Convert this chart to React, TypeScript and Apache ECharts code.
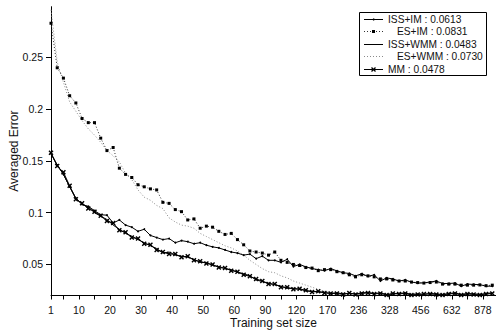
import React, { useEffect, useRef } from 'react';
import * as echarts from 'echarts';

// x positions are sample indices on the (non-linear) training-set-size axis
const xIdx = [
  1, 3, 5, 7, 9, 11, 13, 15, 17, 19, 21, 23,
  25, 27, 29, 31, 33, 35, 37, 39, 41, 43, 45, 47,
  49, 51, 53, 55, 57, 59, 61, 63, 65, 67, 69, 71,
  73, 75, 77, 79, 81, 83, 85, 87, 89, 91, 93, 95,
  97, 99, 101, 103, 105, 107, 109, 111, 113, 115, 117, 119,
  121, 123, 125, 127, 129, 131, 133, 135, 137, 139, 141, 143,
];
const xTickValues = [1, 5, 10, 15, 20, 25, 30, 35, 40, 45, 50, 55, 60, 65, 70, 75, 80, 85, 90, 95, 100, 105, 110, 115, 120, 125, 130, 135, 140];
const xLabelValues = [1, 10, 20, 30, 40, 50, 60, 70, 80, 90, 100, 110, 120, 130, 140];
const xLabelTexts = ['1', '10', '20', '30', '40', '50', '60', '90', '120', '170', '236', '328', '456', '632', '878'];
const yLabelValues = [0.05, 0.1, 0.15, 0.2, 0.25];

const seriesNames = ['ISS+IM : 0.0613', 'ES+IM : 0.0831', 'ISS+WMM : 0.0483', 'ES+WMM : 0.0730', 'MM : 0.0478'];

const issIm = [
  0.157, 0.146, 0.137, 0.125, 0.114, 0.108, 0.106, 0.102, 0.098, 0.0976, 0.090, 0.093,
  0.088, 0.086, 0.082, 0.084, 0.078, 0.076, 0.074, 0.075, 0.071, 0.073, 0.072, 0.070,
  0.071, 0.0686, 0.067, 0.066, 0.064, 0.062, 0.061, 0.059, 0.060, 0.0556, 0.058, 0.054,
  0.054, 0.052, 0.055, 0.048, 0.050, 0.0477, 0.046, 0.045, 0.044, 0.046, 0.0438, 0.042,
  0.0413, 0.039, 0.041, 0.0385, 0.040, 0.034, 0.037, 0.036, 0.034, 0.035, 0.033, 0.032,
  0.0322, 0.033, 0.034, 0.0316, 0.0316, 0.032, 0.029, 0.031, 0.0307, 0.0305, 0.029, 0.029,
];
const esIm = [
  0.283, 0.240, 0.230, 0.213, 0.206, 0.191, 0.187, 0.187, 0.172, 0.160, 0.163, 0.143,
  0.137, 0.134, 0.127, 0.125, 0.123, 0.122, 0.110, 0.109, 0.103, 0.101, 0.093, 0.094,
  0.085, 0.087, 0.086, 0.082, 0.079, 0.080, 0.074, 0.069, 0.063, 0.062, 0.061, 0.059,
  0.062, 0.054, 0.052, 0.050, 0.049, 0.047, 0.0465, 0.044, 0.045, 0.045, 0.043, 0.042,
  0.040, 0.038, 0.040, 0.039, 0.038, 0.036, 0.036, 0.035, 0.034, 0.034, 0.033, 0.0325,
  0.032, 0.0325, 0.033, 0.031, 0.031, 0.031, 0.030, 0.030, 0.030, 0.0302, 0.0295, 0.030,
];
const issWmm = [
  0.157, 0.146, 0.137, 0.125, 0.114, 0.108, 0.1056, 0.100, 0.0966, 0.0934, 0.088, 0.084,
  0.080, 0.0773, 0.074, 0.071, 0.068, 0.0654, 0.061, 0.062, 0.059, 0.058, 0.057, 0.055,
  0.052, 0.052, 0.049, 0.048, 0.046, 0.045, 0.0425, 0.041, 0.039, 0.035, 0.0335, 0.032,
  0.0305, 0.029, 0.027, 0.027, 0.026, 0.0245, 0.024, 0.0235, 0.023, 0.022, 0.0225, 0.0215,
  0.022, 0.0215, 0.0225, 0.023, 0.022, 0.0225, 0.021, 0.0215, 0.022, 0.0225, 0.021, 0.0215,
  0.021, 0.022, 0.0215, 0.021, 0.022, 0.0225, 0.021, 0.022, 0.0215, 0.021, 0.022, 0.0225,
];
const esWmm = [
  0.296, 0.2456, 0.226, 0.207, 0.198, 0.189, 0.181, 0.175, 0.168, 0.160, 0.155, 0.149,
  0.138, 0.132, 0.122, 0.115, 0.112, 0.107, 0.104, 0.095, 0.091, 0.088, 0.087, 0.085,
  0.080, 0.077, 0.074, 0.071, 0.068, 0.066, 0.063, 0.059, 0.054, 0.050, 0.046, 0.043,
  0.042, 0.039, 0.037, 0.034, 0.032, 0.030, 0.028, 0.026, 0.024, 0.023, 0.022, 0.0225,
  0.0215, 0.022, 0.0215, 0.022, 0.0225, 0.021, 0.0215, 0.021, 0.0225, 0.0215, 0.0215, 0.022,
  0.0215, 0.021, 0.022, 0.0215, 0.021, 0.0215, 0.0215, 0.021, 0.022, 0.0215, 0.021, 0.0215,
];
const mm = [
  0.158, 0.145, 0.139, 0.126, 0.113, 0.109, 0.104, 0.101, 0.097, 0.092, 0.090, 0.083,
  0.081, 0.076, 0.075, 0.070, 0.069, 0.064, 0.062, 0.060, 0.060, 0.057, 0.058, 0.054,
  0.053, 0.051, 0.050, 0.047, 0.0465, 0.044, 0.043, 0.040, 0.0385, 0.036, 0.034, 0.031,
  0.031, 0.028, 0.028, 0.026, 0.0265, 0.025, 0.0235, 0.024, 0.0225, 0.022, 0.022, 0.021,
  0.0225, 0.021, 0.022, 0.0225, 0.0215, 0.022, 0.0205, 0.022, 0.0215, 0.022, 0.0205, 0.021,
  0.0215, 0.0215, 0.021, 0.0205, 0.0215, 0.022, 0.0205, 0.0215, 0.021, 0.0205, 0.0215, 0.022,
];

const FONT = '"Liberation Sans", Arial, Helvetica, sans-serif';
const X_MARK = 'path://M0,2L2,0L5,3L8,0L10,2L7,5L10,8L8,10L5,7L2,10L0,8L3,5Z';

export default function App() {
  const ref = useRef<HTMLDivElement>(null);
  useEffect(() => {
    if (!ref.current) return;
    const chart = echarts.init(ref.current, undefined, { renderer: 'svg' });
    const pair = (ys: number[]) => xIdx.map((x, k) => [x, ys[k]]);

    // legend drawn as graphic elements
    const lx1 = 364, lx2 = 383, lcx = 373.5;
    const rowY = (k: number) => 19 + 12.4 * k;
    const legendEls: any[] = [
      { type: 'rect', shape: { x: 359.5, y: 12.5, width: 127, height: 63 }, style: { fill: '#fff', stroke: '#000', lineWidth: 1 } },
    ];
    const lineStyles: any[] = [
      { stroke: '#000', lineWidth: 1 },
      { stroke: '#333', lineWidth: 1, lineDash: [1, 2] },
      { stroke: '#000', lineWidth: 1 },
      { stroke: '#8a8a8a', lineWidth: 1, lineDash: [1, 2] },
      { stroke: '#000', lineWidth: 1 },
    ];
    const textX = [388, 397, 388, 397, 388];
    seriesNames.forEach((name, k) => {
      const y = Math.round(rowY(k)) + 0.5;
      legendEls.push({ type: 'line', shape: { x1: lx1, y1: y, x2: lx2, y2: y }, style: lineStyles[k] });
      legendEls.push({
        type: 'text', x: textX[k], y: rowY(k) + 0.5,
        style: { text: name, fontSize: 10.2, fontFamily: FONT, fill: '#111', verticalAlign: 'middle', align: 'left' },
      });
    });
    legendEls.push({ type: 'circle', shape: { cx: lcx, cy: Math.round(rowY(0)) + 0.5, r: 1 }, style: { fill: '#000' } });
    legendEls.push({ type: 'rect', shape: { x: lcx - 1.5, y: Math.round(rowY(1)) - 1, width: 3, height: 3 }, style: { fill: '#000' } });
    const y4 = Math.round(rowY(4)) + 0.5;
    legendEls.push({ type: 'line', shape: { x1: lcx - 2, y1: y4 - 2, x2: lcx + 2, y2: y4 + 2 }, style: { stroke: '#000', lineWidth: 1.2 } });
    legendEls.push({ type: 'line', shape: { x1: lcx - 2, y1: y4 + 2, x2: lcx + 2, y2: y4 - 2 }, style: { stroke: '#000', lineWidth: 1.2 } });

    const common = { type: 'line', showAllSymbol: true, silent: true, emphasis: { disabled: true } };

    chart.setOption({
      animation: false,
      backgroundColor: '#fff',
      grid: { left: 51, right: 0, top: 6.7, bottom: 36.5, outerBoundsMode: 'none' },
      xAxis: {
        type: 'value', min: 1, max: 144.2,
        name: 'Training set size', nameLocation: 'middle', nameGap: 21, nameMoveOverlap: false,
        nameTextStyle: { fontFamily: FONT, fontSize: 12, color: '#111' },
        axisLine: { show: true, onZero: false, lineStyle: { color: '#000', width: 1 } },
        axisTick: { show: true, customValues: xTickValues, length: 4, lineStyle: { color: '#000' } },
        axisLabel: {
          customValues: xLabelValues, margin: 9, fontFamily: FONT, fontSize: 10.5, color: '#111',
          formatter: (v: number) => {
            const k = xLabelValues.findIndex((q) => Math.abs(q - v) < 1e-6);
            return k >= 0 ? xLabelTexts[k] : '';
          },
        },
        splitLine: { show: false },
      },
      yAxis: {
        type: 'value', min: 0.02, max: 0.299,
        name: 'Averaged Error', nameLocation: 'middle', nameGap: 31, nameMoveOverlap: false,
        nameTextStyle: { fontFamily: FONT, fontSize: 12, color: '#111' },
        axisLine: { show: true, onZero: false, lineStyle: { color: '#000', width: 1 } },
        axisTick: { show: true, customValues: yLabelValues, length: 5, lineStyle: { color: '#000' } },
        axisLabel: {
          customValues: yLabelValues, margin: 8, fontFamily: FONT, fontSize: 10.5, color: '#111',
          formatter: (v: number) => String(Math.round(v * 100) / 100),
        },
        splitLine: { show: false },
      },
      series: [
        { ...common, name: seriesNames[3], data: pair(esWmm), symbol: 'none', lineStyle: { color: '#8a8a8a', width: 1, type: [1, 2] }, z: 1 },
        { ...common, name: seriesNames[1], data: pair(esIm), symbol: 'rect', symbolSize: 3, itemStyle: { color: '#000' }, lineStyle: { color: '#333', width: 1, type: [1, 2] }, z: 2 },
        { ...common, name: seriesNames[2], data: pair(issWmm), symbol: 'none', lineStyle: { color: '#000', width: 1 }, z: 3 },
        { ...common, name: seriesNames[4], data: pair(mm), symbol: X_MARK, symbolSize: 5, itemStyle: { color: '#000' }, lineStyle: { color: '#000', width: 1 }, z: 4 },
        { ...common, name: seriesNames[0], data: pair(issIm), symbol: 'circle', symbolSize: 2, itemStyle: { color: '#000' }, lineStyle: { color: '#000', width: 1 }, z: 5 },
      ],
      graphic: { elements: legendEls.map((e) => ({ ...e, z: 100, silent: true })) },
    });
    return () => chart.dispose();
  }, []);
  return <div ref={ref} style={{ position: 'fixed', left: 0, top: 0, width: 496, height: 332 }} />;
}
